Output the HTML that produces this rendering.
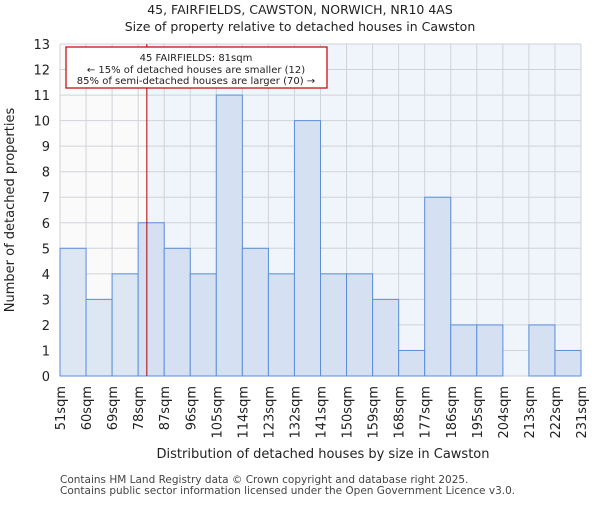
<!DOCTYPE html>
<html><head><meta charset="utf-8"><style>
body{margin:0;background:#fff;font-family:"Liberation Sans","DejaVu Sans",sans-serif;}
svg text{font-family:"DejaVu Sans","Liberation Sans",sans-serif;}
</style></head><body>
<svg id="c" width="600" height="500"></svg>
<script>
const binEdges=[51,60,69,78,87,96,105,114,123,132,141,150,159,168,177,186,195,204,213,222,231];
const counts=[5,3,4,6,5,4,11,5,4,10,4,4,3,1,7,2,2,0,2,1];
const yTicks=[0,1,2,3,4,5,6,7,8,9,10,11,12,13];
const marker=81;
const NS="http://www.w3.org/2000/svg";
const svg=document.getElementById('c');
const L=60,R=581,T=44,B=376;
const xs=v=>L+(v-51)/(231-51)*(R-L);
const ys=v=>B-v/13*(B-T);
function el(t,a,p){const e=document.createElementNS(NS,t);for(const k in a)e.setAttribute(k,a[k]);(p||svg).appendChild(e);return e;}
function tx(x,y,s,o){const e=el('text',Object.assign({x:x,y:y,'font-size':11,fill:'#222'},o||{}));e.textContent=s;return e;}
let e;
e=el('rect',{x:L,y:T,width:R-L,height:B-T,fill:'#f0f4fb'});

e=el('rect',{x:L,y:T,width:xs(marker)-L,height:B-T,fill:'#fafafa'});

yTicks.forEach(v=>{
 e=el('line',{x1:L,x2:R,y1:ys(v),y2:ys(v),stroke:'#d0d3da','stroke-width':1});
 
 e=tx(L-10,ys(v)+5,String(v),{'text-anchor':'end','font-size':13});
 
});
binEdges.forEach(v=>{
 e=el('line',{x1:xs(v),x2:xs(v),y1:T,y2:B,stroke:'#d0d3da','stroke-width':1});
 
 e=tx(0,0,v+'sqm',{'font-size':13,'text-anchor':'end',transform:`translate(${xs(v)+5},${B+10}) rotate(-90)`});
 
});
counts.forEach((c,i)=>{
 if(c<=0)return;
 const x0=xs(binEdges[i]),x1=xs(binEdges[i+1]);
 e=el('rect',{x:x0,y:ys(c),width:x1-x0,height:ys(0)-ys(c),fill:binEdges[i+1]<=marker?'#dde6f3':'#d5e0f3',stroke:'#5b8fd6','stroke-width':1});
 
});
e=el('line',{x1:xs(marker),x2:xs(marker),y1:T,y2:B,stroke:'#b00000','stroke-width':1});

e=el('rect',{x:66,y:47,width:261,height:41,fill:'#fff',stroke:'#c00000','stroke-width':1.2});

[['45 FAIRFIELDS: 81sqm',61],['← 15% of detached houses are smaller (12)',73],['85% of semi-detached houses are larger (70) →',84]].forEach(a=>{
 e=tx(196,a[1],a[0],{'text-anchor':'middle','font-size':10});
 
});
e=tx(300,14,'45, FAIRFIELDS, CAWSTON, NORWICH, NR10 4AS',{'text-anchor':'middle','font-size':12.5});

e=tx(300,31,'Size of property relative to detached houses in Cawston',{'text-anchor':'middle','font-size':12.5});

e=tx(0,0,'Number of detached properties',{'text-anchor':'middle','font-size':13,transform:'translate(14,210) rotate(-90)'});

e=tx(323,458,'Distribution of detached houses by size in Cawston',{'text-anchor':'middle','font-size':13});

e=tx(60,483,'Contains HM Land Registry data © Crown copyright and database right 2025.',{'font-size':10.5,fill:'#444'});

e=tx(60,494,'Contains public sector information licensed under the Open Government Licence v3.0.',{'font-size':10.5,fill:'#444'});

</script>
</body></html>
